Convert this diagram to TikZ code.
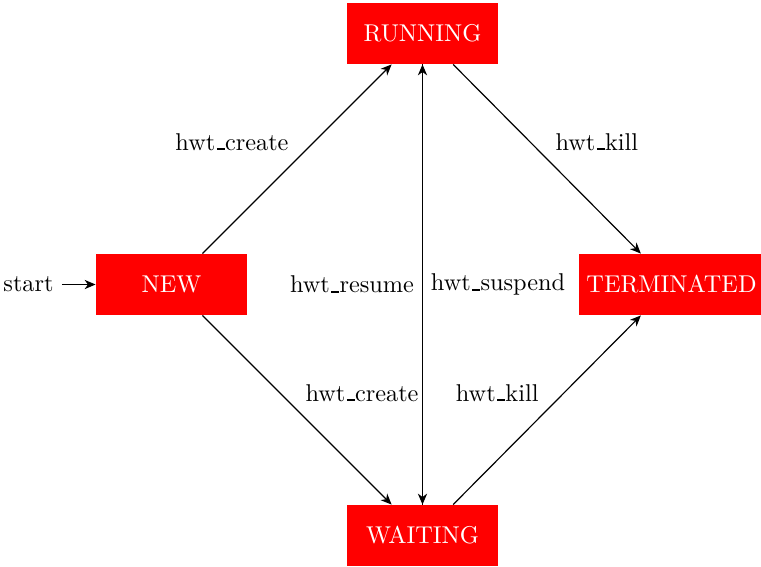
\documentclass[tikz,border=0pt]{standalone}
\usetikzlibrary{arrows.meta}
% short underscore rule, sitting on the baseline
\newcommand\lowbar{\leavevmode\kern.06em\vbox{\hrule width .32em height .8pt}\kern.02em}
\begin{document}
\begin{tikzpicture}[x=0.4219pt,y=0.4219pt,
  every node/.style={font=\fontsize{10.25}{12}\selectfont},
  statebox/.style={rectangle, fill=red, text=white, minimum width=63.7pt, minimum height=25.7pt, inner sep=3.2pt},
  trans/.style={-{Stealth[length=4.6pt,width=3.9pt,inset=1.4pt]}, line width=0.5pt}]
  \useasboundingbox (0,0) rectangle (761,566);

  % states
  \node[statebox] (run)  at (422.5,532.5) {RUNNING};
  \node[statebox] (new)  at (171.5,281.5) {NEW};
  \node[statebox] (term) at (671.5,281.5) {TERMINATED};
  \node[statebox] (wait) at (422.5,30.5)  {WAITING};

  % initial marker
  \node (start) at (28.5,281.5) {start};
  \draw[trans] (start) -- (new);

  % transitions
  \draw[trans] (new)  -- node[auto] {hwt\lowbar create} (run);
  \draw[trans] (new)  -- node[auto] {hwt\lowbar create} (wait);
  \draw[trans] (run)  -- node[auto] {hwt\lowbar kill} (term);
  \draw[trans] (wait) -- node[auto] {hwt\lowbar kill} (term);
  \draw[trans] (run)  -- node[auto] {hwt\lowbar suspend} (wait);
  \draw[trans] (wait) -- node[auto] {hwt\lowbar resume} (run);
\end{tikzpicture}
\end{document}
